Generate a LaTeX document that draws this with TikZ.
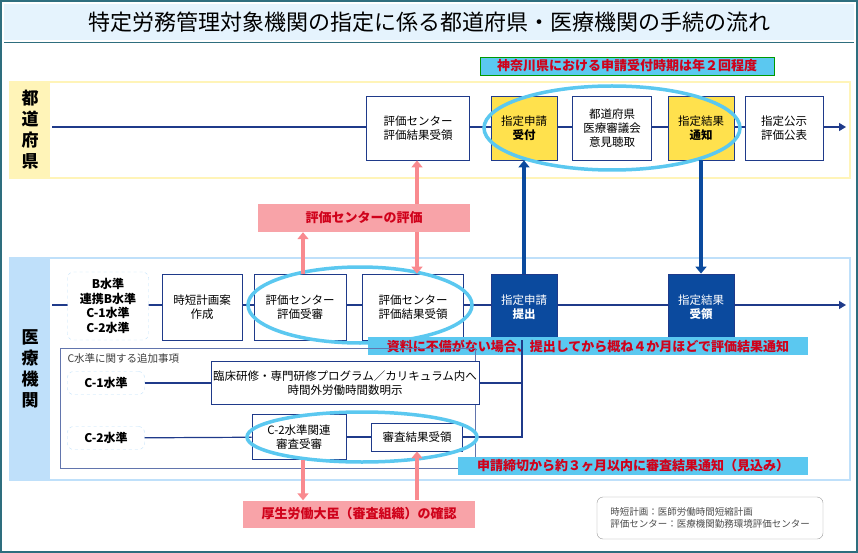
\documentclass[tikz,border=0pt]{standalone}
\usepackage{fontspec}
\setmainfont{Noto Sans CJK JP}
\usetikzlibrary{arrows.meta,positioning}
\definecolor{navy}{HTML}{1F3A8A}
\definecolor{deepblue}{HTML}{0B4A9E}
\definecolor{kiiro}{HTML}{FFE14D}
\definecolor{usukiiro}{HTML}{FFF4B8}
\definecolor{mizu}{HTML}{BFE0FA}
\definecolor{sora}{HTML}{5BC8F0}
\definecolor{momo}{HTML}{F8A3A8}
\definecolor{aka}{HTML}{D0021B}
\definecolor{frame}{HTML}{2E6E7E}
\tikzset{
  proc/.style={draw=navy, thick, fill=white, align=center, font=\fontsize{11.5}{14}\selectfont, inner sep=2pt},
  kproc/.style={proc, fill=kiiro},
  dproc/.style={proc, fill=deepblue, text=white},
  level/.style={draw=mizu, dashed, rounded corners=6pt, fill=white, align=center, font=\bfseries\fontsize{12}{14.5}\selectfont},
  memo/.style={fill=sora, text=aka, font=\bfseries\fontsize{13}{15}\selectfont, inner sep=3pt},
  pink/.style={fill=momo, text=aka, font=\bfseries\fontsize{13}{15}\selectfont, inner sep=4pt},
  flow/.style={navy, very thick},
  pinkarrow/.style={momo!85!red, line width=4pt, -{Triangle[length=7pt,width=11pt]}},
  bluearrow/.style={deepblue, line width=4pt, -{Triangle[length=7pt,width=11pt]}},
  ring/.style={sora, line width=3.5pt},
}
\begin{document}
\begin{tikzpicture}[x=1pt,y=-1pt]
\useasboundingbox (0,0) rectangle (858,553);
\draw[frame, line width=1.5pt] (1,1) rectangle (857,552);
% title
\fill[mizu!40] (4,4) rectangle (854,40);
\draw[frame, thick] (4,42) -- (854,42);
\node (title) at (429,22) {\fontsize{22}{24}\selectfont 特定労務管理対象機関の指定に係る都道府県・医療機関の手続の流れ};
\node[memo, draw=green!60!black, minimum width=294pt] (kanagawa) at (627,66) {神奈川県における申請受付時期は年２回程度};
% prefecture band
\draw[usukiiro, line width=1.5pt, fill=white] (10,82) rectangle (850,178);
\fill[usukiiro] (10,82) rectangle (50,178);
\node[align=center, font=\bfseries\fontsize{17}{21}\selectfont] (pref) at (30,130) {都\\道\\府\\県};
% medical band
\draw[mizu, line width=1.5pt, fill=white] (10,258) rectangle (850,480);
\fill[mizu] (10,258) rectangle (50,480);
\node[align=center, font=\bfseries\fontsize{17}{21}\selectfont] (iryo) at (30,369) {医\\療\\機\\関};
% prefecture row
\coordinate (p0) at (52,127);
\coordinate (p1) at (846,127);
\draw[flow, -{Triangle[length=7pt,width=8pt]}] (p0) -- (p1);
\node[proc, minimum width=103pt, minimum height=64pt] (hres) at (418,128) {評価センター\\評価結果受領};
\node[kproc, minimum width=66pt, minimum height=64pt] (uketsuke) at (524,128) {指定申請\\\textbf{受付}};
\node[proc, minimum width=79pt, minimum height=64pt] (shingi) at (612,128) {都道府県\\医療審議会\\意見聴取};
\node[kproc, minimum width=66pt, minimum height=64pt] (tsuchi) at (701,128) {指定結果\\\textbf{通知}};
\node[proc, minimum width=78pt, minimum height=64pt] (koji) at (784,128) {指定公示\\評価公表};
\draw[ring] (612,128) ellipse (128 and 42);
% evaluation center
\node[pink, minimum width=212pt, minimum height=28pt] (hyoka) at (364,218) {評価センターの評価};
% medical row
\coordinate (m0) at (52,305);
\coordinate (m1) at (846,305);
\draw[flow, -{Triangle[length=7pt,width=8pt]}] (m0) -- (m1);
\node[level, minimum width=81pt, minimum height=68pt] (bsui) at (108,306) {B水準\\連携B水準\\C-1水準\\C-2水準};
\node[proc, minimum width=80pt, minimum height=66pt] (jitan) at (202,307) {時短計画案\\作成};
\node[proc, minimum width=92pt, minimum height=66pt] (jushin) at (300,307) {評価センター\\評価受審};
\node[proc, minimum width=101pt, minimum height=66pt] (mres) at (413,307) {評価センター\\評価結果受領};
\node[dproc, minimum width=66pt, minimum height=66pt] (teishutsu) at (524,307) {指定申請\\\textbf{提出}};
\node[dproc, minimum width=66pt, minimum height=66pt] (juryo) at (701,307) {指定結果\\\textbf{受領}};
\draw[ring] (360,305) ellipse (112 and 38);
\node[memo, minimum width=440pt] (shiryo) at (588,346) {資料に不備がない場合、提出してから概ね４か月ほどで評価結果通知};
% C additional
\draw[navy!70, thin] (60,348) rectangle (475,468);
\node[anchor=west, font=\fontsize{10.5}{12}\selectfont, text=black!75] (cadd) at (64,358) {C水準に関する追加事項};
\node[level, minimum width=77pt, minimum height=23pt] (c1) at (106,383) {C-1水準};
\node[proc, minimum width=240pt, minimum height=43pt] (rinsho) at (345,383) {臨床研修・専門研修プログラム／カリキュラム内へ\\時間外労働時間数明示};
\node[level, minimum width=77pt, minimum height=23pt] (c2) at (106,438) {C-2水準};
\node[proc, minimum width=94pt, minimum height=45pt] (c2jushin) at (299,437) {C-2水準関連\\審査受審};
\node[proc, minimum width=91pt, minimum height=28pt] (c2res) at (417,437) {審査結果受領};
\coordinate (j1) at (522,383);
\coordinate (j2) at (522,437);
\draw[flow] (c1) -- (rinsho);
\draw[flow] (rinsho) -- (j1);
\draw[flow] (c2) -- (c2jushin);
\draw[flow] (c2jushin) -- (c2res);
\draw[flow] (c2res) -- (j2) -- (teishutsu.south -| j2);
\draw[ring] (362,437) ellipse (115 and 25);
\node[memo, minimum width=350pt] (shimekiri) at (633,466) {申請締切から約３ヶ月以内に審査結果通知（見込み）};
% minister
\node[pink, minimum width=232pt, minimum height=27pt] (daijin) at (359,514) {厚生労働大臣（審査組織）の確認};
% arrows
\draw[pinkarrow] (jushin.north -| 303,0) -- (hyoka.south -| 303,0);
\draw[pinkarrow] (hyoka.south -| 417,0) -- (mres.north -| 417,0);
\draw[pinkarrow] (hyoka.north -| 417,0) -- (hres.south -| 417,0);
\draw[pinkarrow] (c2jushin.south -| 303,0) -- (daijin.north -| 303,0);
\draw[pinkarrow] (daijin.north -| 417,0) -- (c2res.south -| 417,0);
\draw[bluearrow] (teishutsu.north) -- (uketsuke.south);
\draw[bluearrow] (tsuchi.south) -- (juryo.north);
% note
\node[draw=black!40, rounded corners=6pt, align=left, text=black!70, font=\fontsize{9.5}{12}\selectfont, minimum width=226pt, minimum height=42pt] (note) at (710,518) {時短計画：医師労働時間短縮計画\\評価センター：医療機関勤務環境評価センター};
\end{tikzpicture}
\end{document}
